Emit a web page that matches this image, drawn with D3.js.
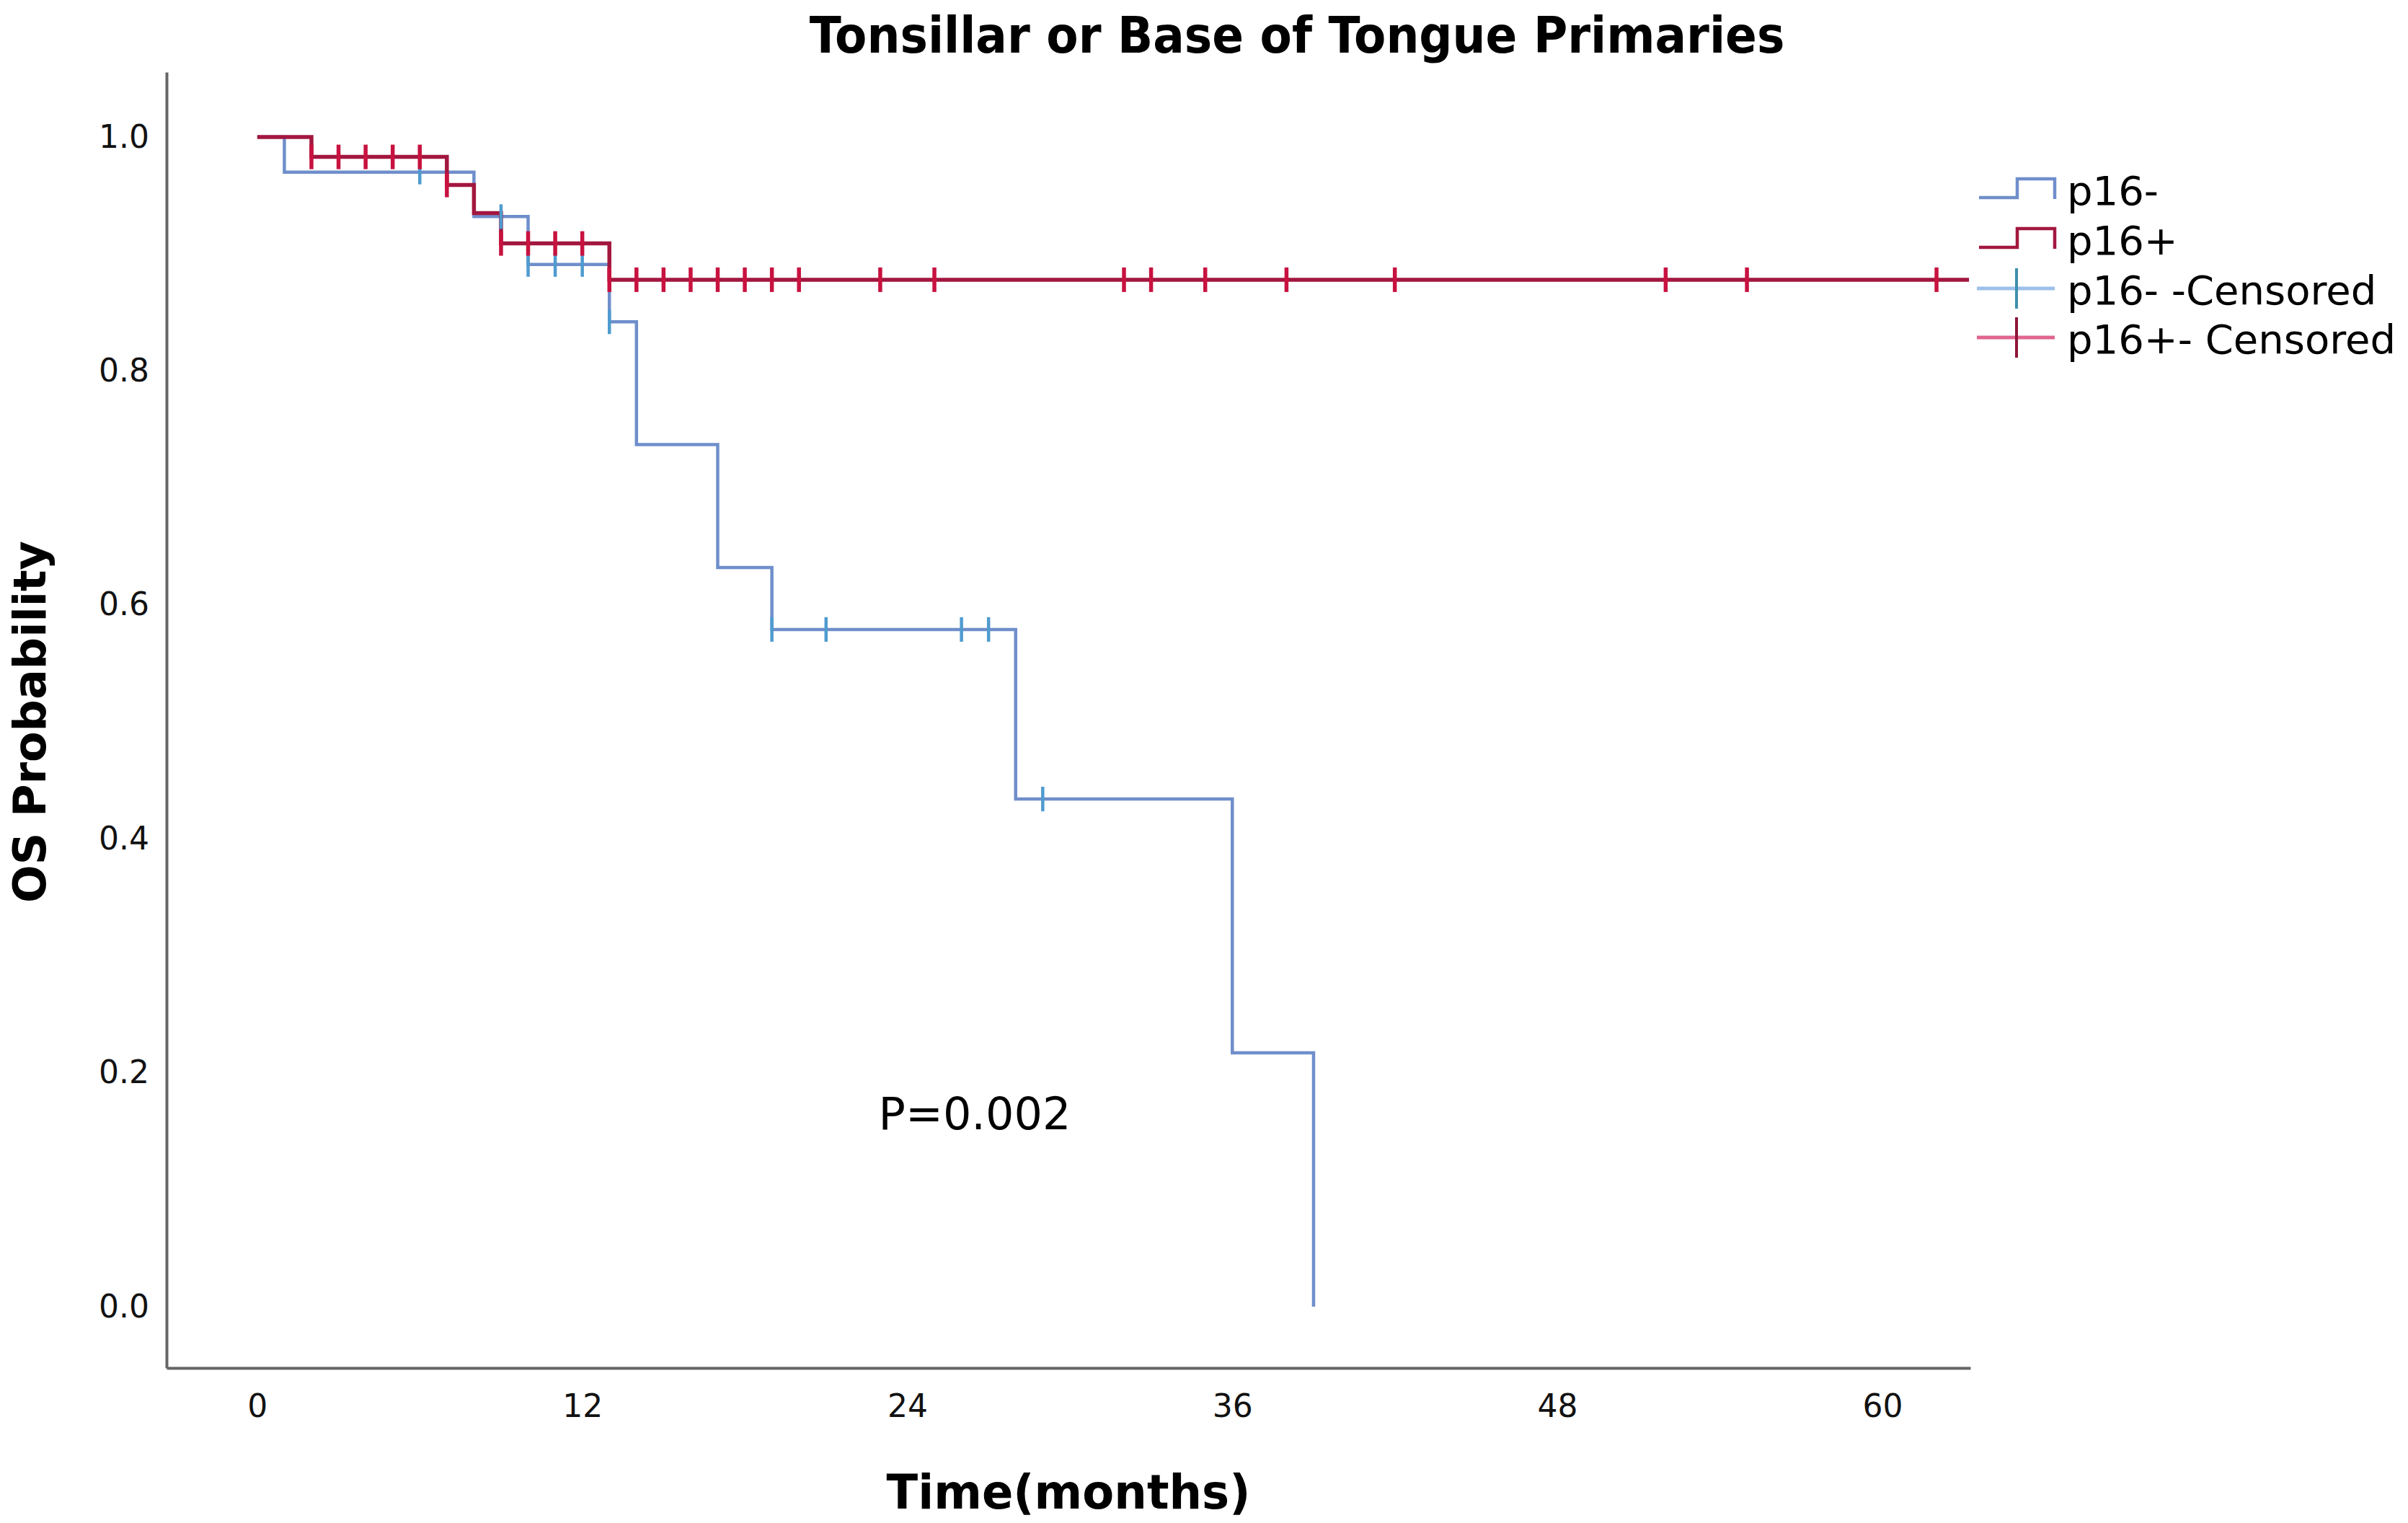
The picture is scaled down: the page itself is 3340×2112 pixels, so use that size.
<!doctype html>
<html lang="en">
<head>
    <meta charset="UTF-8" />
    <title>Tonsillar or Base of Tongue Primaries</title>
    <script src="https://d3js.org/d3.v7.min.js"></script>
    <style>
        body, html {
            margin: 0;
            padding: 0;
            background: #fff;
            overflow: hidden;
        }

        svg {
            display: block;
        }

        .axis path {
            stroke: #666;
            stroke-width: 4px;
        }

        .axis text {
            font-family: "DejaVu Sans", sans-serif;
            font-size: 44px;
            fill: #111;
        }

        .bold-label {
            font-family: "DejaVu Sans", sans-serif;
            font-weight: bold;
            fill: #000;
        }

        .legend text {
            font-family: "DejaVu Sans", sans-serif;
            font-size: 56px;
            fill: #000;
        }
    </style>
</head>
<body>
    <svg id="chart"></svg>

    <script>
        const width = 3340;
        const height = 2112;

        // p16- group (blue)
        const negTimes = [0, 1, 8, 10, 13, 14, 17, 19, 28, 36, 39];
        const negSurv = [1, 0.970, 0.932, 0.891, 0.842, 0.737, 0.632, 0.579, 0.434, 0.217, 0];
        const negCensored = [6, 9, 10, 11, 12, 13, 19, 21, 26, 27, 29];

        // p16+ group (red)
        const posTimes = [0, 2, 7, 8, 9, 13];
        const posSurv = [1, 0.983, 0.959, 0.935, 0.909, 0.878];
        const posLastTime = 63.2;
        const posCensored = [2, 3, 4, 5, 6, 7, 9, 10, 11, 12, 13, 14, 15, 16, 17, 18, 19, 20,
            23, 25, 32, 33, 35, 38, 42, 52, 55, 62];

        const xTicks = [0, 12, 24, 36, 48, 60];
        const yTicks = [0, 0.2, 0.4, 0.6, 0.8, 1.0];
        const legendLabels = ["p16-", "p16+", "p16- -Censored", "p16+- Censored"];

        const blue = "#6f8ecb";
        const blueCens = "#4f9bcf";
        const red = "#a3173f";
        const redCens = "#c8123f";

        const svg = d3.select("#chart")
            .attr("width", width)
            .attr("height", height);

        const x = d3.scaleLinear().domain([-3.35, 63.25]).range([231, 2733]);
        const y = d3.scaleLinear().domain([-0.0524, 1.0555]).range([1897, 100]);

        // axes: just the lines and labels, no tick marks
        svg.append("g")
            .attr("class", "axis")
            .attr("transform", `translate(0,${y.range()[0]})`)
            .call(d3.axisBottom(x).tickValues(xTicks).tickSize(0).tickPadding(37).tickSizeOuter(0));

        svg.append("g")
            .attr("class", "axis")
            .attr("transform", `translate(${x.range()[0]},0)`)
            .call(d3.axisLeft(y).tickValues(yTicks).tickFormat(d3.format(".1f"))
                .tickSize(0).tickPadding(24).tickSizeOuter(0));

        function stepPoints(times, surv, lastTime) {
            const pts = times.map((t, i) => [t, surv[i]]);
            if (lastTime !== undefined) pts.push([lastTime, surv[surv.length - 1]]);
            return pts;
        }

        function levelAt(times, surv, t) {
            const i = d3.bisectRight(times, t) - 1;
            return surv[Math.max(0, i)];
        }

        const line = d3.line()
            .x(d => x(d[0]))
            .y(d => y(d[1]))
            .curve(d3.curveStepAfter);

        svg.append("path")
            .datum(stepPoints(negTimes, negSurv))
            .attr("fill", "none")
            .attr("stroke", blue)
            .attr("stroke-width", 4.5)
            .attr("d", line);

        svg.append("path")
            .datum(stepPoints(posTimes, posSurv, posLastTime))
            .attr("fill", "none")
            .attr("stroke", red)
            .attr("stroke-width", 5.5)
            .attr("d", line);

        const tickHalf = 17;

        svg.append("g").selectAll("line")
            .data(negCensored)
            .join("line")
            .attr("x1", d => x(d))
            .attr("x2", d => x(d))
            .attr("y1", d => y(levelAt(negTimes, negSurv, d)) - tickHalf)
            .attr("y2", d => y(levelAt(negTimes, negSurv, d)) + tickHalf)
            .attr("stroke", blueCens)
            .attr("stroke-width", 4.5);

        svg.append("g").selectAll("line")
            .data(posCensored)
            .join("line")
            .attr("x1", d => x(d))
            .attr("x2", d => x(d))
            .attr("y1", d => y(levelAt(posTimes, posSurv, d)) - tickHalf)
            .attr("y2", d => y(levelAt(posTimes, posSurv, d)) + tickHalf)
            .attr("stroke", redCens)
            .attr("stroke-width", 5.5);

        // squeeze bold text horizontally to the width it has in the picture
        function fitWidth(sel, target, base) {
            const w = sel.node().getComputedTextLength();
            const k = Math.min(1, target / w);
            sel.attr("transform", `${base} scale(${k},1)`);
        }

        const title = svg.append("text")
            .attr("class", "bold-label")
            .attr("text-anchor", "middle")
            .attr("font-size", 70)
            .text("Tonsillar or Base of Tongue Primaries");
        fitWidth(title, 1353, "translate(1799,73)");

        const xLabel = svg.append("text")
            .attr("class", "bold-label")
            .attr("text-anchor", "middle")
            .attr("font-size", 66)
            .text("Time(months)");
        fitWidth(xLabel, 505, "translate(1482,2092)");

        const yLabel = svg.append("text")
            .attr("class", "bold-label")
            .attr("text-anchor", "middle")
            .attr("font-size", 62)
            .text("OS Probability");
        fitWidth(yLabel, 502, "translate(63,1001) rotate(-90)");

        svg.append("text")
            .attr("x", 1352)
            .attr("y", 1566)
            .attr("text-anchor", "middle")
            .attr("font-family", "DejaVu Sans, sans-serif")
            .attr("font-size", 62)
            .attr("fill", "#000")
            .text("P=0.002");

        // legend
        const legend = svg.append("g").attr("class", "legend");
        const legX = 2745;
        const legY = [262, 331, 400, 468];

        function stepSymbol(g, cy, color) {
            g.append("path")
                .attr("d", `M${legX},${cy + 12} H${legX + 53} V${cy - 14} H${legX + 105} V${cy + 14}`)
                .attr("fill", "none")
                .attr("stroke", color)
                .attr("stroke-width", 4.5);
        }

        function censSymbol(g, cy, lineColor, tickColor) {
            g.append("line")
                .attr("x1", legX - 3).attr("x2", legX + 105)
                .attr("y1", cy).attr("y2", cy)
                .attr("stroke", lineColor).attr("stroke-width", 5);
            g.append("line")
                .attr("x1", legX + 52).attr("x2", legX + 52)
                .attr("y1", cy - 28).attr("y2", cy + 28)
                .attr("stroke", tickColor).attr("stroke-width", 4);
        }

        stepSymbol(legend, legY[0], blue);
        stepSymbol(legend, legY[1], red);
        censSymbol(legend, legY[2], "#9cc0ea", "#3f8fae");
        censSymbol(legend, legY[3], "#e0668f", "#8e1538");

        legend.selectAll("text")
            .data(legendLabels)
            .join("text")
            .attr("x", 2867)
            .attr("y", (d, i) => legY[i] + 22)
            .text(d => d);
    </script>
</body>
</html>
